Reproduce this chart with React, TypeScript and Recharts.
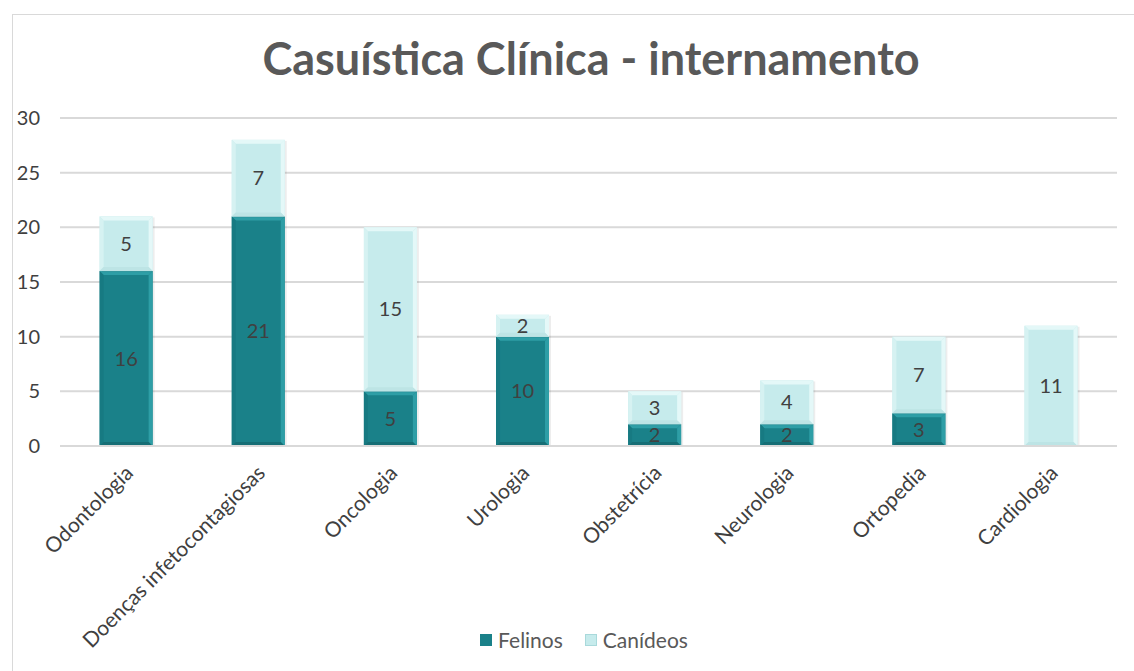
import React from "react";
import { BarChart, Bar, XAxis, YAxis, CartesianGrid, LabelList } from "recharts";

const categories = ["Odontologia", "Doenças infetocontagiosas", "Oncologia", "Urologia", "Obstetrícia", "Neurologia", "Ortopedia", "Cardiologia"];
const felinos = [16, 21, 5, 10, 2, 2, 3, 0];
const canideos = [5, 7, 15, 2, 3, 4, 7, 11];
const yTicks = [0, 5, 10, 15, 20, 25, 30];

const data = categories.map((c, i) => ({ name: c, felinos: felinos[i], canideos: canideos[i] }));

const FONT = "Lato, 'Open Sans', sans-serif";
const C_FEL = "#1A8189";
const C_CAN = "#C6EBEC";

const makeBevel = (main: string, light: string, dark: string, side: string) => (props: any) => {
  const { x, y, width, height } = props;
  if (!height || height <= 0) return <g />;
  const b = Math.min(4, height / 2);
  return (
    <g>
      <rect x={x + 2} y={y + 1} width={width} height={height} fill="rgba(0,0,0,0.07)" />
      <rect x={x} y={y} width={width} height={height} fill={main} />
      <polygon points={`${x},${y} ${x + width},${y} ${x + width - b},${y + b} ${x + b},${y + b}`} fill={light} />
      <polygon points={`${x},${y} ${x + b},${y + b} ${x + b},${y + height - b} ${x},${y + height}`} fill={side} />
      <polygon points={`${x + width},${y} ${x + width},${y + height} ${x + width - b},${y + height - b} ${x + width - b},${y + b}`} fill={light} />
      <polygon points={`${x},${y + height} ${x + b},${y + height - b} ${x + width - b},${y + height - b} ${x + width},${y + height}`} fill={dark} />
    </g>
  );
};

const FelShape = makeBevel(C_FEL, "#2E9EA6", "#166E75", "#177A82");
const CanShape = makeBevel(C_CAN, "#E4F8F8", "#BDE4E5", "#D6F2F2");

const XTick = (props: any) => {
  const { x, y, payload } = props;
  return (
    <g transform={`translate(${x + 4},${y + 16})`}>
      <text transform="rotate(-45)" textAnchor="end" fontFamily={FONT} fontSize={21} fill="#404040" dy={6}>
        {payload.value}
      </text>
    </g>
  );
};

const renderLabel = (props: any) => {
  const { x, y, width, height, value } = props;
  if (!value) return null;
  return (
    <text x={x + width / 2} y={y + height / 2} dy={7} textAnchor="middle" fontFamily={FONT} fontSize={20} fill="#404040">
      {value}
    </text>
  );
};

const Legend = () => (
  <div style={{ position: "absolute", left: 0, width: 1142, top: 612, display: "flex", justifyContent: "center", fontFamily: FONT, fontSize: 21, color: "#595959" }}>
    <div style={{ display: "flex", alignItems: "center", marginRight: 22 }}>
      <span style={{ display: "inline-block", width: 12, height: 12, background: C_FEL, marginRight: 6 }} />
      Felinos
    </div>
    <div style={{ display: "flex", alignItems: "center" }}>
      <span style={{ display: "inline-block", width: 12, height: 12, background: C_CAN, border: "1px solid #a9d9db", boxSizing: "border-box", marginRight: 6 }} />
      Canídeos
    </div>
  </div>
);

export default function App() {
  return (
    <div style={{ position: "absolute", left: 12, top: 14, width: 1124, height: 660, border: "1px solid #d9d9d9", background: "#fff", boxSizing: "border-box" }}>
      <div style={{ position: "absolute", left: 0, width: 1156, top: 16, textAlign: "center", fontFamily: FONT, fontWeight: 700, fontSize: 45, color: "#595959" }}>
        Casuística Clínica - internamento
      </div>
      <BarChart width={1122} height={657} data={data} margin={{ top: 103, right: 18, bottom: 46, left: 0 }} barCategoryGap="30%">
        <CartesianGrid vertical={false} stroke="#d9d9d9" strokeWidth={2} />
        <XAxis dataKey="name" interval={0} tick={<XTick />} tickLine={false} axisLine={{ stroke: "#d9d9d9", strokeWidth: 2 }} height={180} />
        <YAxis domain={[0, 30]} ticks={yTicks} width={47} tickLine={false} axisLine={false} tickMargin={14}
          tick={{ fontFamily: FONT, fontSize: 20, fill: "#404040" }} />
        <Bar dataKey="felinos" stackId="a" fill={C_FEL} shape={<FelShape />} isAnimationActive={false}>
          <LabelList dataKey="felinos" content={renderLabel} />
        </Bar>
        <Bar dataKey="canideos" stackId="a" fill={C_CAN} shape={<CanShape />} isAnimationActive={false}>
          <LabelList dataKey="canideos" content={renderLabel} />
        </Bar>
      </BarChart>
      <Legend />
    </div>
  );
}
